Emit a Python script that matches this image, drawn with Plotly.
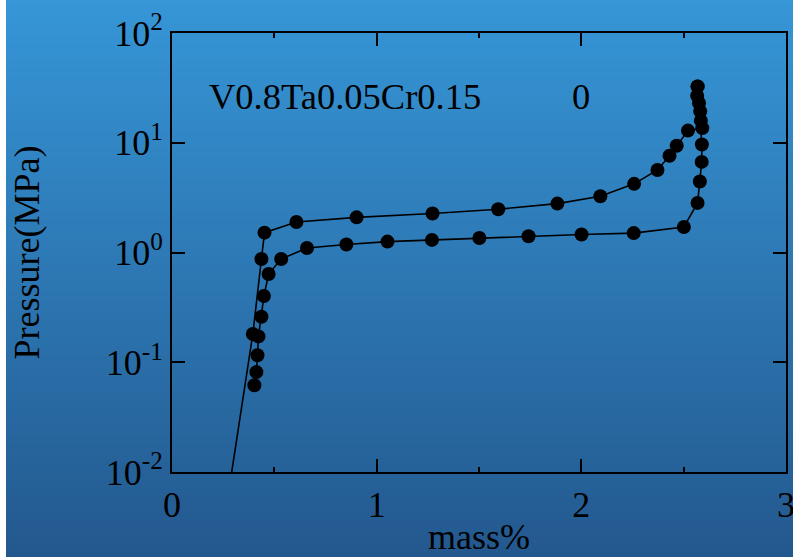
import base64
import struct
import zlib

import plotly.graph_objects as go

# ---------------- data ----------------
absorption_mass = [0.267, 0.395, 0.437, 0.452, 0.608, 0.902, 1.273, 1.594, 1.883, 2.093,
                   2.258, 2.372, 2.431, 2.466, 2.521, 2.591, 2.584, 2.581, 2.575, 2.566, 2.568]
absorption_pressure = [0.005, 0.181, 0.872, 1.516, 1.898, 2.09, 2.27, 2.48, 2.79, 3.25,
                       4.22, 5.65, 7.61, 9.39, 12.9, 13.6, 15.9, 19.3, 23.0, 26.8, 32.6]

desorption_mass = [2.568, 2.589, 2.588, 2.579, 2.568,
                   2.501, 2.256, 2.001, 1.742, 1.502, 1.270, 1.053, 0.852, 0.6595, 0.5335,
                   0.472, 0.449, 0.437, 0.4226, 0.4177, 0.4123, 0.4025]
desorption_pressure = [32.6, 9.63, 6.69, 4.43, 2.83,
                       1.71, 1.503, 1.459, 1.405, 1.356, 1.303, 1.257, 1.183, 1.099, 0.872,
                       0.637, 0.401, 0.260, 0.172, 0.116, 0.0813, 0.0618]

y_tickvals = [0.01, 0.1, 1, 10, 100]
y_ticktext = ["10<sup>-2</sup>", "10<sup>-1</sup>", "10<sup>0</sup>", "10<sup>1</sup>", "10<sup>2</sup>"]
x_tickvals = [0, 1, 2, 3]
x_ticktext = ["0", "1", "2", "3"]

sample_label = "V0.8Ta0.05Cr0.15"
cycle_label = "0"

# ---------------- layout geometry ----------------
W, H = 793, 557
L, R, T, B = 172, 786, 33, 471.7
FONT = "Liberation Serif, Times New Roman, serif"


def px2paper_x(px):
    return (px - L) / (R - L)


def px2paper_y(py):
    return (B - py) / (B - T)


def gradient_png(top, bottom, height):
    rows = b""
    for i in range(height):
        f = i / (height - 1)
        c = bytes(round(top[k] + (bottom[k] - top[k]) * f) for k in range(3))
        rows += b"\x00" + c + c
    def chunk(tag, data):
        return (struct.pack(">I", len(data)) + tag + data +
                struct.pack(">I", zlib.crc32(tag + data) & 0xFFFFFFFF))
    png = b"\x89PNG\r\n\x1a\n"
    png += chunk(b"IHDR", struct.pack(">IIBBBBB", 2, height, 8, 2, 0, 0, 0))
    png += chunk(b"IDAT", zlib.compress(rows, 9))
    png += chunk(b"IEND", b"")
    return "data:image/png;base64," + base64.b64encode(png).decode()


bg_src = gradient_png((54, 150, 215), (35, 88, 142), H)

fig = go.Figure()

line_style = dict(color="black", width=1.6)
marker_style = dict(color="black", size=14, symbol="circle", line=dict(width=0))

fig.add_trace(go.Scatter(x=absorption_mass, y=absorption_pressure, mode="lines+markers",
                         line=line_style, marker=marker_style, showlegend=False, cliponaxis=True))
fig.add_trace(go.Scatter(x=desorption_mass, y=desorption_pressure, mode="lines+markers",
                         line=line_style, marker=marker_style, showlegend=False, cliponaxis=True))

axis_common = dict(showline=True, linecolor="black", linewidth=2, mirror="allticks",
                   ticks="inside", ticklen=13, tickwidth=1.8, tickcolor="black",
                   showgrid=False, zeroline=False, automargin=False,
                   ticklabeloverflow="allow",
                   tickfont=dict(family=FONT, size=36, color="black"))

fig.update_layout(
    width=W, height=H, autosize=False,
    margin=dict(l=L, r=W - R, t=T, b=H - B, pad=0),
    paper_bgcolor="white", plot_bgcolor="rgba(0,0,0,0)",
    images=[dict(source=bg_src, xref="paper", yref="paper",
                 x=px2paper_x(6), y=px2paper_y(0),
                 sizex=px2paper_x(W) - px2paper_x(6), sizey=px2paper_y(0) - px2paper_y(H),
                 xanchor="left", yanchor="top", sizing="stretch", layer="below")],
    xaxis=dict(range=[0, 3], tickvals=x_tickvals, ticktext=x_ticktext,
               minor=dict(dtick=0.5, tick0=0, ticks="inside", ticklen=5, tickwidth=1.8,
                          tickcolor="black", showgrid=False),
               title=dict(text="mass%", font=dict(family=FONT, size=36, color="black"), standoff=14),
               **axis_common),
    yaxis=dict(type="log", range=[-2, 2], tickvals=y_tickvals, ticktext=y_ticktext,
               title=dict(text="Pressure(MPa)", font=dict(family=FONT, size=36, color="black"), standoff=55),
               **axis_common),
    annotations=[
        dict(text=sample_label, xref="paper", yref="paper", x=px2paper_x(207), y=px2paper_y(96),
             xanchor="left", yanchor="middle", showarrow=False,
             font=dict(family=FONT, size=36.5, color="black")),
        dict(text=cycle_label, xref="paper", yref="paper", x=px2paper_x(580.5), y=px2paper_y(96),
             xanchor="center", yanchor="middle", showarrow=False,
             font=dict(family=FONT, size=36.5, color="black")),
    ],
)

fig.write_html("out.html", config={"displayModeBar": False},
               post_script="document.body.style.margin='0';document.body.style.overflow='hidden';")
